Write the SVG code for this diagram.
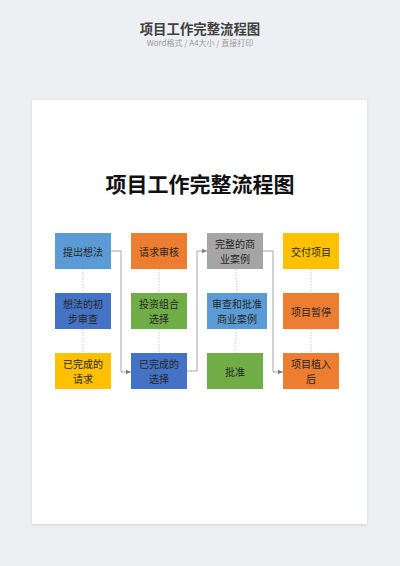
<svg xmlns="http://www.w3.org/2000/svg" width="400" height="566" viewBox="0 0 400 566">
<defs>
<style>
.t{font-family:"Noto Sans CJK SC","Noto Sans",sans-serif;font-size:10px;fill:#262626;text-anchor:middle;dominant-baseline:central}
.c{fill:none;stroke:#a6a6a6;stroke-width:1}
.d{fill:none;stroke:#c8c8c8;stroke-width:1;stroke-dasharray:1.5 1.5}
</style>
<marker id="ah" markerWidth="6" markerHeight="6" refX="5" refY="3" orient="auto" markerUnits="userSpaceOnUse">
<path d="M0,0.8 L5,3 L0,5.2 Z" fill="#7f7f7f"/>
</marker>
<filter id="sh" x="-5%" y="-5%" width="110%" height="110%">
<feDropShadow dx="0" dy="1" stdDeviation="1.5" flood-color="#000" flood-opacity="0.12"/>
</filter>
</defs>
<rect x="0" y="0" width="400" height="566" fill="#edeff3"/>
<text x="200" y="34" font-family="Noto Sans CJK SC,sans-serif" font-size="13.4" font-weight="bold" fill="#404040" text-anchor="middle">项目工作完整流程图</text>
<text x="200" y="46" font-family="Noto Sans CJK SC,sans-serif" font-size="8" fill="#9a9a9a" text-anchor="middle">Word格式 / A4大小 / 直接打印</text>
<rect x="32" y="100" width="335" height="424" fill="#ffffff" filter="url(#sh)"/>
<text x="200" y="192" font-family="Noto Sans CJK SC,sans-serif" font-size="21" font-weight="bold" fill="#111111" text-anchor="middle">项目工作完整流程图</text>
<g id="connectors">
<line class="d" x1="83" y1="269" x2="83" y2="293"/>
<line class="d" x1="83" y1="329" x2="83" y2="353"/>
<line class="d" x1="159" y1="269" x2="159" y2="293"/>
<line class="d" x1="159" y1="329" x2="159" y2="353"/>
<polyline class="d" points="236,269 236,281 237,281 237,293"/>
<polyline class="d" points="236,329 236,341 235,341 235,353"/>
<line class="d" x1="311" y1="269" x2="311" y2="293"/>
<line class="d" x1="311" y1="329" x2="311" y2="353"/>
<polyline class="c" points="111,251 121,251 121,372 131,372" marker-end="url(#ah)"/>
<polyline class="c" points="187,371 197,371 197,251 207,251" marker-end="url(#ah)"/>
<polyline class="c" points="263,251 273,251 273,372 283,372" marker-end="url(#ah)"/>
</g>
<g id="n1"><rect x="55" y="233" width="56" height="36" fill="#5b9bd5"/><text class="t" x="83" y="251">提出想法</text></g>
<g id="n2"><rect x="55" y="293" width="56" height="36" fill="#4472c4"/><text class="t" x="83" y="303.5">想法的初</text><text class="t" x="83" y="318.5">步审查</text></g>
<g id="n3"><rect x="55" y="353" width="56" height="36" fill="#ffc000"/><text class="t" x="83" y="363.5">已完成的</text><text class="t" x="83" y="378.5">请求</text></g>
<g id="n4"><rect x="131" y="233" width="56" height="36" fill="#ed7d31"/><text class="t" x="159" y="251">请求审核</text></g>
<g id="n5"><rect x="131" y="293" width="56" height="36" fill="#70ad47"/><text class="t" x="159" y="303.5">投资组合</text><text class="t" x="159" y="318.5">选择</text></g>
<g id="n6"><rect x="131" y="353" width="56" height="36" fill="#4472c4"/><text class="t" x="159" y="363.5">已完成的</text><text class="t" x="159" y="378.5">选择</text></g>
<g id="n7"><rect x="207" y="233" width="56" height="36" fill="#a5a5a5"/><text class="t" x="235" y="243.5">完整的商</text><text class="t" x="235" y="258.5">业案例</text></g>
<g id="n8"><rect x="207" y="293" width="60" height="36" fill="#5b9bd5"/><text class="t" x="237" y="303.5">审查和批准</text><text class="t" x="237" y="318.5">商业案例</text></g>
<g id="n9"><rect x="207" y="353" width="56" height="36" fill="#70ad47"/><text class="t" x="235" y="371">批准</text></g>
<g id="n10"><rect x="283" y="233" width="56" height="36" fill="#ffc000"/><text class="t" x="311" y="251">交付项目</text></g>
<g id="n11"><rect x="283" y="293" width="56" height="36" fill="#ed7d31"/><text class="t" x="311" y="311">项目暂停</text></g>
<g id="n12"><rect x="283" y="353" width="56" height="36" fill="#ed7d31"/><text class="t" x="311" y="363.5">项目植入</text><text class="t" x="311" y="378.5">后</text></g>
</svg>
